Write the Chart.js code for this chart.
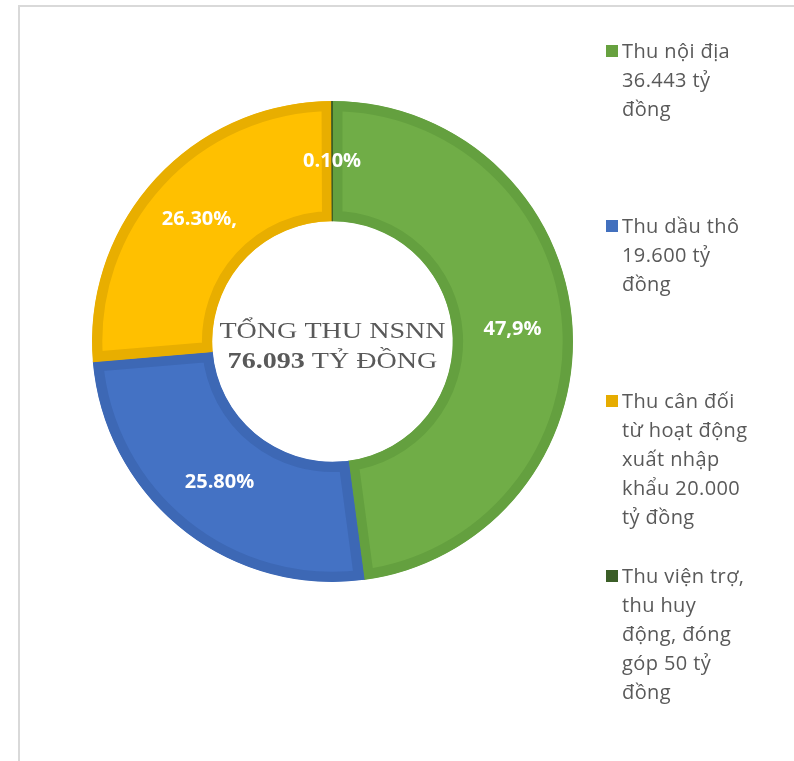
<!DOCTYPE html>
<html>
<head>
<meta charset="utf-8">
<script src="https://cdn.jsdelivr.net/npm/chart.js@4/dist/chart.umd.min.js"></script>
<style>
  body { margin: 0; background: #fff; }
  #wrap { position: relative; width: 794px; height: 761px; overflow: hidden; }
  #frame { position: absolute; left: 18px; top: 5px; width: 800px; height: 800px;
    border-left: 2px solid #d9d9d9; border-top: 2px solid #d9d9d9; }
  #myChart { position: absolute; left: 0; top: 0; }
  #legend { position: absolute; left: 606px; top: 0; width: 188px;
    font-family: "Open Sans", sans-serif; font-size: 20px; color: #595959; line-height: 29px; }
  .item { position: absolute; left: 0; white-space: nowrap; }
  .box { position: absolute; left: 0; top: 9px; width: 12px; height: 12px; }
  .txt { margin-left: 16px; letter-spacing: 0.4px; }
</style>
</head>
<body>
<div id="wrap">
  <div id="frame"></div>
  <canvas id="myChart" width="794" height="761"></canvas>
  <div id="legend"></div>
</div>
<script>
// legend labels, one array of lines per category
let categories = [
  ["Thu nội địa", "36.443 tỷ", "đồng"],
  ["Thu dầu thô", "19.600 tỷ", "đồng"],
  ["Thu cân đối", "từ hoạt động", "xuất nhập", "khẩu 20.000", "tỷ đồng"],
  ["Thu viện trợ,", "thu huy", "động, đóng", "góp 50 tỷ", "đồng"]
]
let values = [36443, 19600, 20000, 50]
let pctLabels = ["47,9%", "25.80%", "26.30%,", "0.10%"]
let centerTitle = "TỔNG THU NSNN"
let centerTotal = "76.093"
let centerUnit = " TỶ ĐỒNG"

let fills = ["#70AD47", "#4472C4", "#FFC000", "#375623"]
let borders = ["#64A03F", "#3D68B5", "#E8AE00", "#3A5A24"]
let swatches = ["#67A13F", "#4270BE", "#E6AC00", "#3B5E27"]

// build html legend
let legend = document.getElementById("legend")
categories.forEach((lines, i) => {
  let item = document.createElement("div")
  item.className = "item"
  item.style.top = (36 + i * 175) + "px"
  item.innerHTML = `<span class="box" style="background:${swatches[i]}"></span>` +
    `<div class="txt">${lines.join("<br>")}</div>`
  legend.appendChild(item)
})

// percent labels inside each slice
const sliceLabels = {
  id: "sliceLabels",
  afterDatasetsDraw(chart) {
    let ctx = chart.ctx
    let meta = chart.getDatasetMeta(0)
    ctx.save()
    ctx.fillStyle = "#fff"
    ctx.font = "bold 20px 'Open Sans', sans-serif"
    ctx.textAlign = "center"
    ctx.textBaseline = "middle"
    meta.data.forEach((arc, i) => {
      let p = arc.tooltipPosition()
      ctx.fillText(pctLabels[i], p.x, p.y)
    })
    ctx.restore()
  }
}

// title in the hole (text is a bit wider than plain Times, so stretch it)
const centerText = {
  id: "centerText",
  afterDraw(chart) {
    let ctx = chart.ctx
    let arc = chart.getDatasetMeta(0).data[0]
    let cx = arc.x, cy = arc.y
    let sx = 1.17
    ctx.save()
    ctx.translate(cx, cy)
    ctx.scale(sx, 1)
    ctx.fillStyle = "#595959"
    ctx.textBaseline = "alphabetic"
    ctx.textAlign = "center"
    ctx.font = "24px 'Liberation Serif', serif"
    ctx.fillText(centerTitle, 0, -4)
    // second line: bold number + normal unit
    let boldFont = "bold 24px 'Liberation Serif', serif"
    let normFont = "24px 'Liberation Serif', serif"
    ctx.font = boldFont
    let w1 = ctx.measureText(centerTotal).width
    ctx.font = normFont
    let w2 = ctx.measureText(centerUnit).width
    let x0 = -(w1 + w2) / 2
    ctx.textAlign = "left"
    ctx.font = boldFont
    ctx.fillText(centerTotal, x0, 26)
    ctx.font = normFont
    ctx.fillText(centerUnit, x0 + w1, 26)
    ctx.restore()
  }
}

let ctx = document.getElementById("myChart").getContext("2d")
let myChart = new Chart(ctx, {
  type: "doughnut",
  data: {
    labels: categories.map(l => l.join(" ")),
    datasets: [{
      data: values,
      backgroundColor: fills,
      borderColor: borders,
      borderWidth: 10,
      borderAlign: "inner"
    }]
  },
  options: {
    responsive: false,
    animation: false,
    cutout: "50%",
    layout: { padding: { left: 92, right: 221, top: 101, bottom: 179 } },
    plugins: {
      legend: { display: false },
      tooltip: { enabled: false }
    }
  },
  plugins: [sliceLabels, centerText]
})
</script>
</body>
</html>
